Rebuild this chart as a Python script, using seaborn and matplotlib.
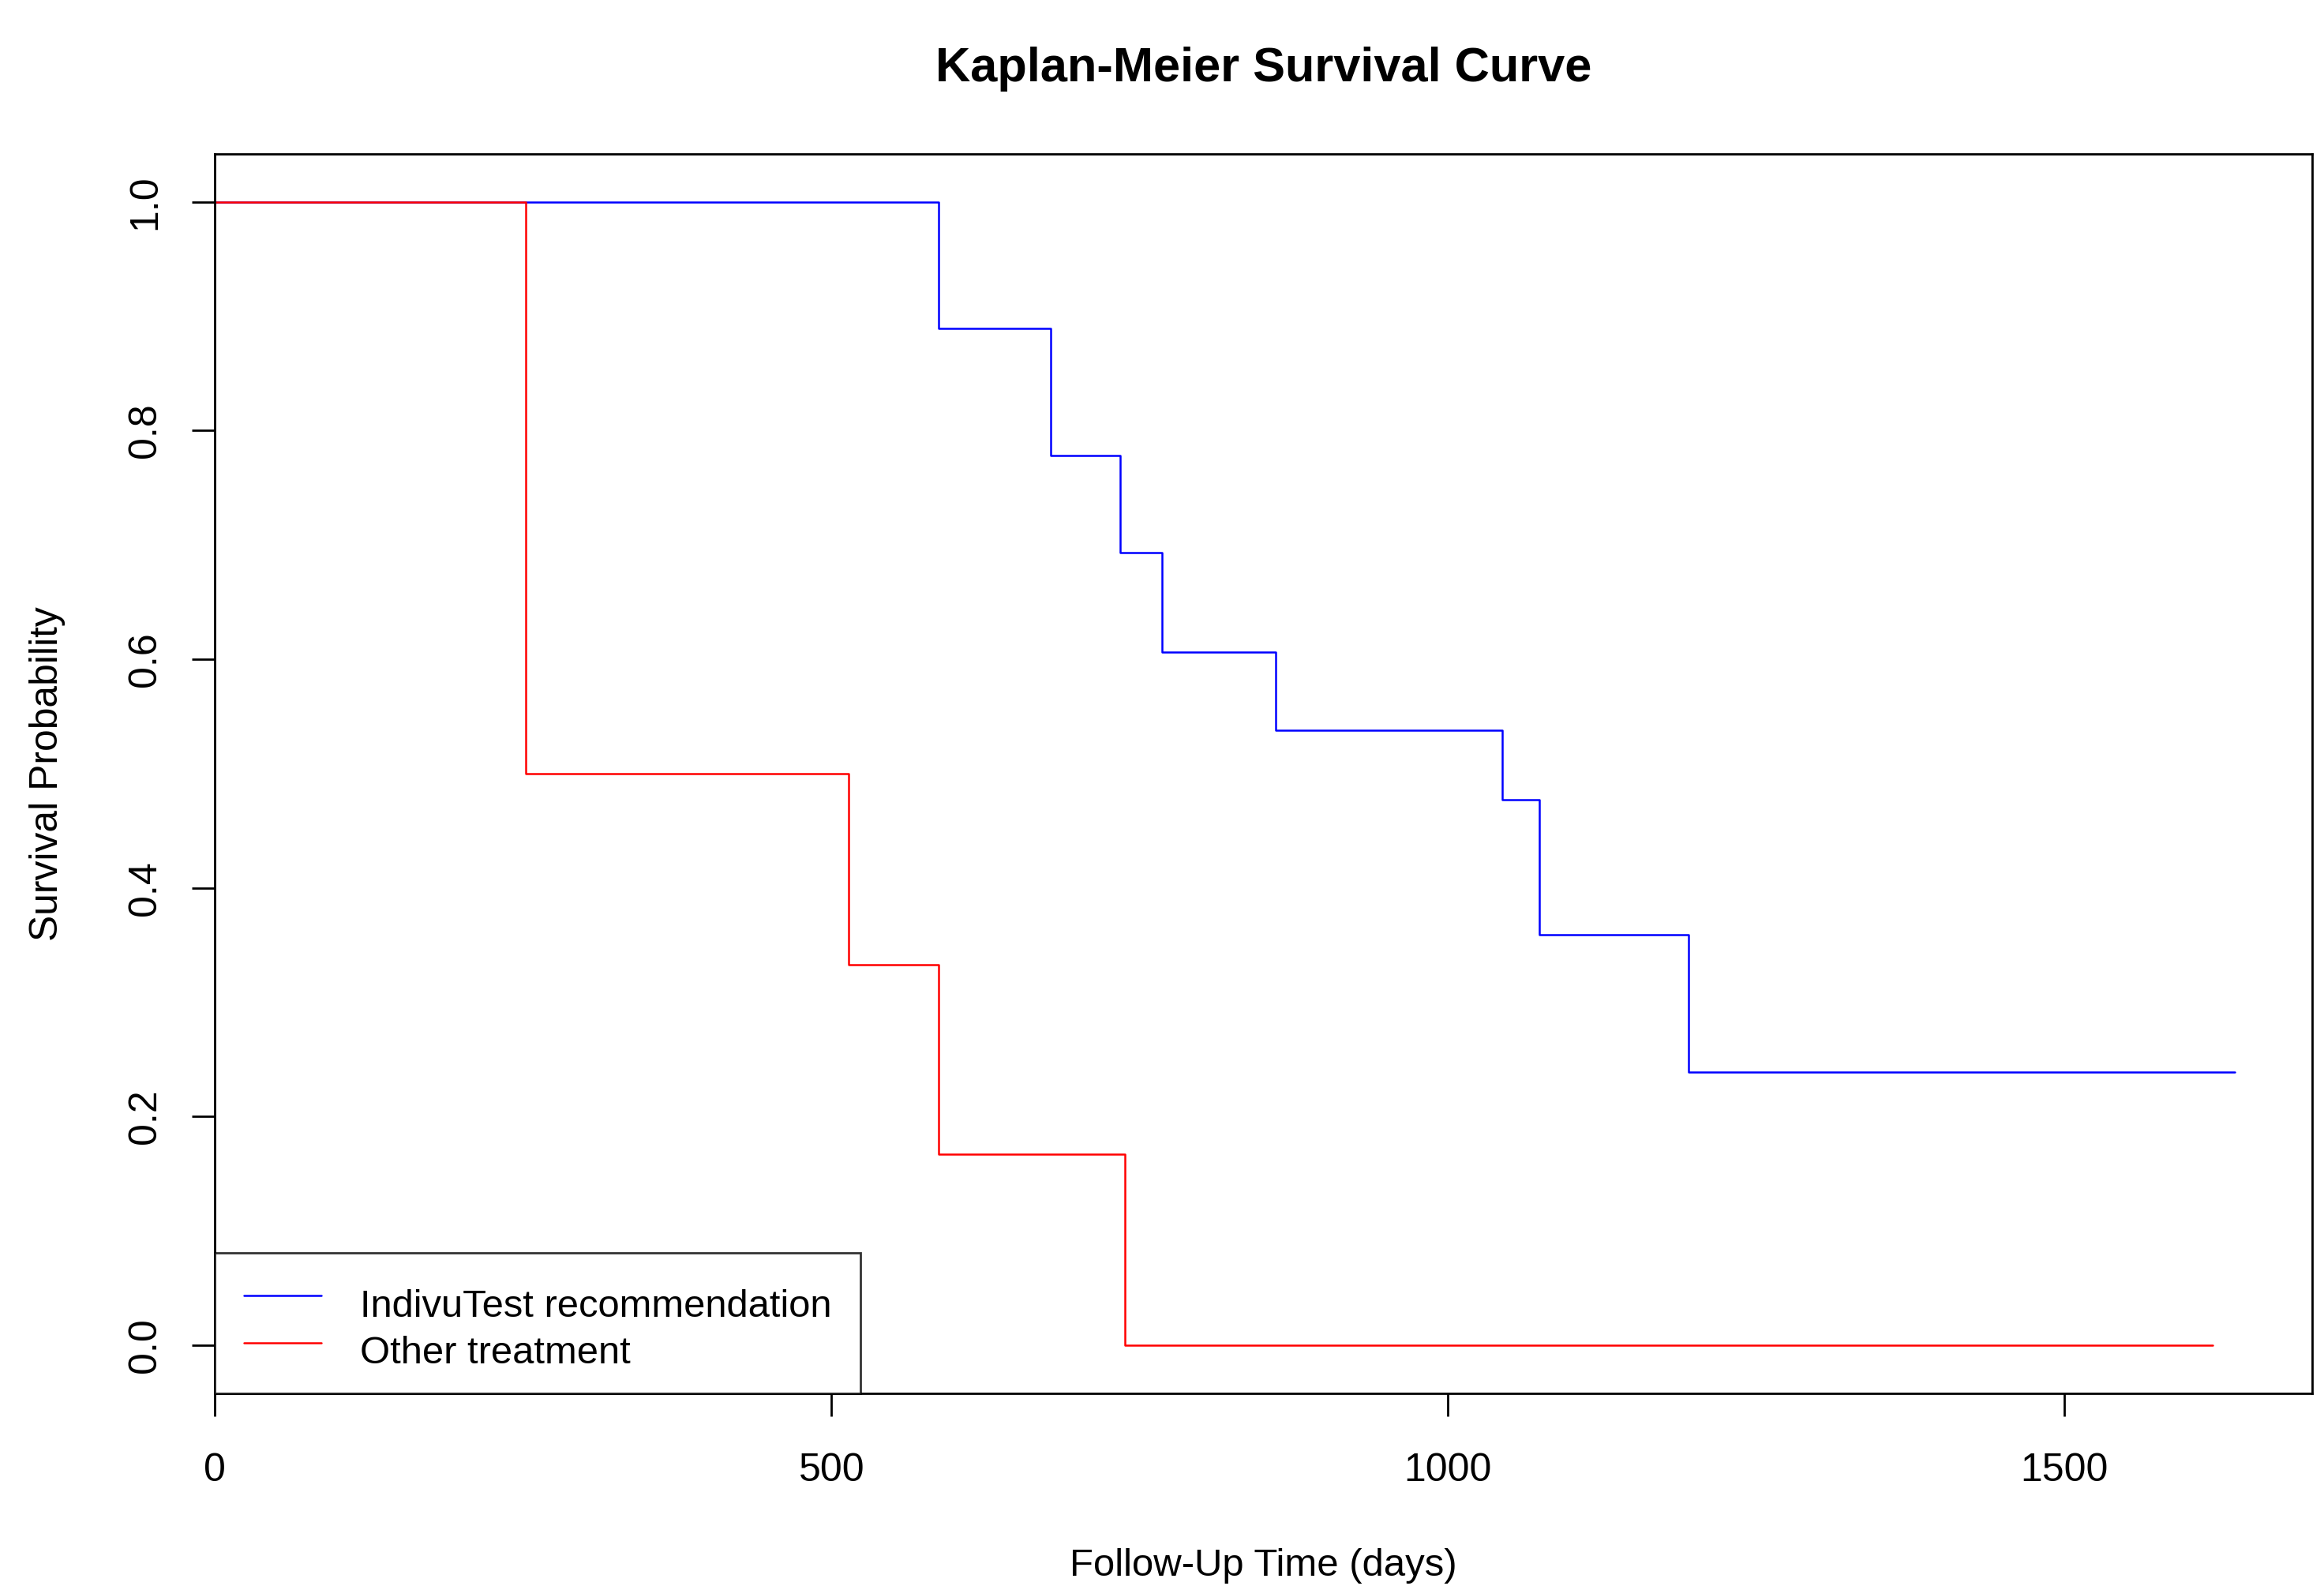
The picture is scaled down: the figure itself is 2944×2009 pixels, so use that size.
import seaborn as sns
import matplotlib.pyplot as plt
from matplotlib.lines import Line2D
import pandas as pd

# step points of the two Kaplan-Meier curves
indivu_time = [0, 587, 678, 734, 768, 860, 1044, 1074, 1195, 1638]
indivu_surv = [1.0, 0.889, 0.778, 0.693, 0.606, 0.538, 0.477, 0.359, 0.239, 0.239]
other_time = [0, 252, 514, 587, 738, 1620]
other_surv = [1.0, 0.5, 0.333, 0.167, 0.0, 0.0]

group_names = ["IndivuTest recommendation", "Other treatment"]
group_colors = {"IndivuTest recommendation": "#0000ff", "Other treatment": "#ff0000"}

x_ticks = [0, 500, 1000, 1500]
y_ticks = [0.0, 0.2, 0.4, 0.6, 0.8, 1.0]

df = pd.concat([
    pd.DataFrame({"time": indivu_time, "surv": indivu_surv, "group": group_names[0]}),
    pd.DataFrame({"time": other_time, "surv": other_surv, "group": group_names[1]}),
], ignore_index=True)

sns.set_style("white")
plt.rcParams['font.family'] = ['Liberation Sans', 'DejaVu Sans']
plt.rcParams.update({"text.color": "black", "axes.labelcolor": "black",
                     "xtick.color": "black", "ytick.color": "black"})

fig = plt.figure(figsize=(14.72, 10.045), dpi=200)
ax = fig.add_axes([0.0925, 0.1215, 0.9025, 0.7815])

sns.lineplot(data=df, x="time", y="surv", hue="group", palette=group_colors,
             hue_order=group_names, estimator=None, sort=False,
             drawstyle="steps-post", linewidth=0.9, legend=False, ax=ax)

ax.set_xlim(0, 1701)
ax.set_ylim(-0.042, 1.042)
ax.set_xticks(x_ticks)
ax.set_xticklabels([str(t) for t in x_ticks])
ax.set_yticks(y_ticks)
ax.set_yticklabels(["%.1f" % t for t in y_ticks], rotation=90, va="center")

for s in ax.spines.values():
    s.set_visible(True)
    s.set_color("black")
    s.set_linewidth(1.0)

ax.tick_params(axis="both", direction="out", length=10.5, width=1.0, color="black",
               labelsize=18, bottom=True, left=True)
ax.tick_params(axis="x", pad=16.5)
ax.tick_params(axis="y", pad=13)

ax.set_xlabel("Follow-Up Time (days)", fontsize=17.7, labelpad=27)
ax.set_ylabel("Survival Probability", fontsize=17.9, labelpad=28)
ax.set_title("Kaplan-Meier Survival Curve", fontsize=22.1, fontweight="bold", pad=33)

handles = [Line2D([], [], color=group_colors[g], linewidth=0.9) for g in group_names]
leg = ax.legend(handles, group_names, loc="lower left", fontsize=17.6, frameon=True,
                fancybox=False, borderaxespad=0, borderpad=0.75, handlelength=2.0,
                handletextpad=1.0, labelspacing=0.3)
leg.get_frame().set_edgecolor("black")
leg.get_frame().set_linewidth(1.0)
# R puts the legend text a little lower than the key lines
for t in leg.get_texts():
    t.set_y(-9)

fig.savefig("out.png", dpi=200, facecolor="white")
